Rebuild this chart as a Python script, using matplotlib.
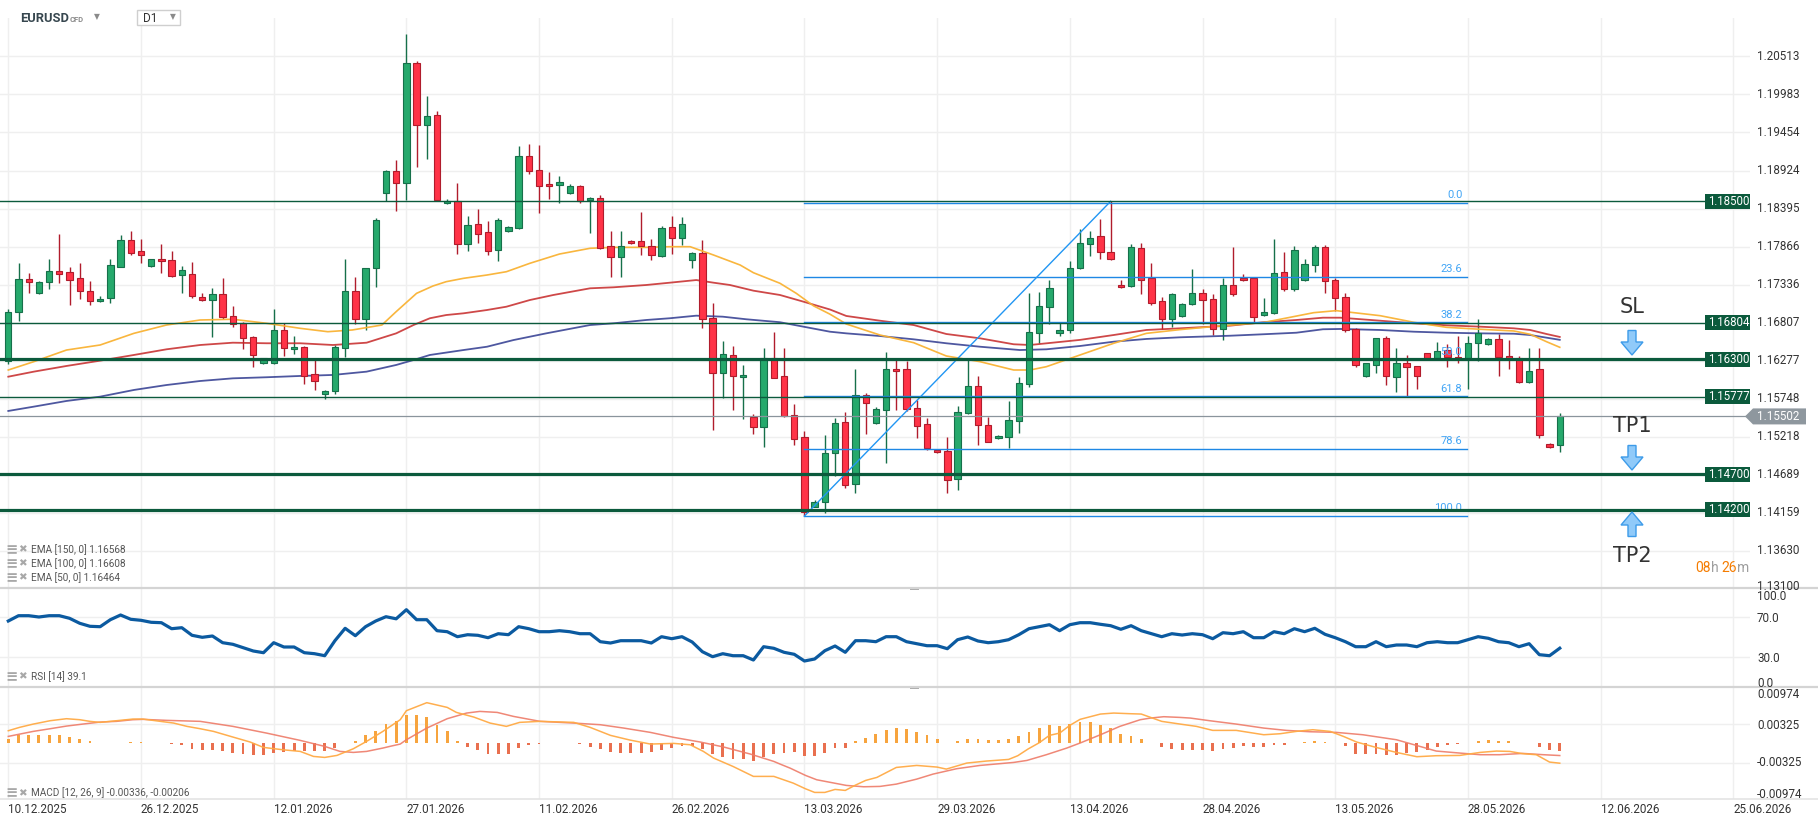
import matplotlib
matplotlib.use("Agg")
import matplotlib.pyplot as plt
import numpy as np
from matplotlib.patches import Rectangle, Polygon
from matplotlib.lines import Line2D

# ---------------------------------------------------------------- data
opens = [1.16273,1.16951,1.17410,1.17215,1.17377,1.17526,1.17508,1.17424,1.17243,1.17104,
1.17146,1.17586,1.17953,1.17800,1.17591,1.17689,1.17675,1.17466,1.17480,1.17160,
1.17118,1.17202,1.16896,1.16798,1.16603,1.16241,1.16241,1.16701,1.16436,1.16464,
1.16092,1.15810,1.15856,1.16450,1.17243,1.16854,1.17563,1.18607,1.18913,1.18746,
1.20416,1.19553,1.19692,1.18468,1.18504,1.17897,1.18176,1.18064,1.17814,1.18078,
1.18120,1.19122,1.18927,1.18732,1.18718,1.18607,1.18704,1.18510,1.18538,1.17869,
1.17716,1.17939,1.17939,1.17869,1.17730,1.18134,1.17981,1.17675,1.17772,1.16868,
1.16102,1.16353,1.16047,1.15489,1.15359,1.16311,1.16065,1.15522,1.15212,1.14246,
1.14307,1.14989,1.15420,1.14566,1.15796,1.15406,1.15587,1.16158,1.16158,1.15615,
1.15392,1.15031,1.15017,1.14627,1.15545,1.15921,1.15379,1.15198,1.15212,1.15434,
1.15949,1.16659,1.17021,1.16659,1.16701,1.17563,1.17897,1.18013,1.17786,1.17327,
1.17313,1.17842,1.17424,1.17104,1.16854,1.16896,1.17062,1.17215,1.17132,1.16715,
1.17327,1.17424,1.17424,1.16910,1.16937,1.17508,1.17271,1.17396,1.17605,1.17860,
1.17396,1.17160,1.16723,1.16060,1.16213,1.16597,1.16047,1.16241,1.16200,1.16381,
1.16311,1.16422,1.16325,1.16311,1.16520,1.16506,1.16584,1.16339,1.16311,1.15977,
1.16158,1.15114,1.15100]
highs = [1.16993,1.17633,1.17494,1.17390,1.17689,1.18041,1.17577,1.17633,1.17387,1.17178,
1.17689,1.18023,1.18082,1.17967,1.17695,1.17897,1.17800,1.17591,1.17647,1.17215,
1.17285,1.17424,1.17034,1.16820,1.16621,1.16320,1.16993,1.16798,1.16617,1.16482,
1.16287,1.15870,1.16492,1.17689,1.17438,1.17570,1.18259,1.18927,1.19066,1.20824,
1.20444,1.19957,1.19748,1.18528,1.18750,1.18291,1.18389,1.18222,1.18259,1.18152,
1.19269,1.19293,1.19279,1.18903,1.18844,1.18732,1.18723,1.18551,1.18579,1.18087,
1.18078,1.17955,1.18347,1.17967,1.18148,1.18291,1.18273,1.17786,1.17953,1.17076,
1.16548,1.16478,1.16218,1.15536,1.16450,1.16673,1.16450,1.15675,1.15299,1.14339,
1.15250,1.15476,1.15559,1.16158,1.15824,1.15629,1.16398,1.16287,1.16278,1.15726,
1.15476,1.15040,1.15212,1.15643,1.16297,1.16060,1.15498,1.15244,1.15712,1.16047,
1.17215,1.17229,1.17396,1.16798,1.17661,1.18106,1.18078,1.18245,1.18496,1.17396,
1.17897,1.17911,1.17633,1.17160,1.17215,1.17076,1.17549,1.17271,1.17202,1.17424,
1.17860,1.17480,1.17430,1.17146,1.17967,1.17790,1.17874,1.17689,1.17888,1.17884,
1.17424,1.17215,1.16730,1.16250,1.16600,1.16617,1.16450,1.16353,1.16205,1.16390,
1.16534,1.16506,1.16617,1.16617,1.16854,1.16590,1.16645,1.16561,1.16339,1.16450,
1.16450,1.15128,1.15546]
lows = [1.16232,1.16834,1.17215,1.17205,1.17279,1.17355,1.17048,1.17132,1.17048,1.17100,
1.17076,1.17580,1.17744,1.17633,1.17585,1.17502,1.17438,1.17215,1.17146,1.17104,
1.16603,1.16854,1.16751,1.16436,1.16194,1.16235,1.16228,1.16347,1.16367,1.15949,
1.15866,1.15740,1.15810,1.16333,1.16784,1.16709,1.17299,1.18496,1.18365,1.18510,
1.18969,1.19080,1.18510,1.18454,1.17767,1.17808,1.17920,1.17748,1.17669,1.18070,
1.18106,1.18880,1.18337,1.18532,1.18476,1.18600,1.18476,1.18059,1.17828,1.17438,
1.17446,1.17905,1.17753,1.17675,1.17725,1.17758,1.17888,1.17563,1.16728,1.15313,
1.15765,1.15591,1.15466,1.15258,1.15081,1.16030,1.15500,1.15109,1.14116,1.14237,
1.14162,1.14677,1.14510,1.14441,1.15262,1.15400,1.14858,1.15587,1.15573,1.15206,
1.15031,1.14989,1.14441,1.14482,1.15540,1.15109,1.15140,1.15190,1.15067,1.15267,
1.15907,1.16520,1.16784,1.16617,1.16659,1.17555,1.17730,1.17689,1.17680,1.17290,
1.17299,1.17202,1.17048,1.16715,1.16742,1.16890,1.17055,1.16784,1.16631,1.16561,
1.17178,1.17390,1.16812,1.16905,1.16930,1.17243,1.17243,1.17390,1.17508,1.17224,
1.16965,1.16673,1.16186,1.16055,1.16102,1.15935,1.15837,1.15776,1.15888,1.16300,
1.16305,1.16186,1.16241,1.15880,1.16269,1.16500,1.16069,1.16158,1.15963,1.15963,
1.15195,1.15068,1.15011]
closes = [1.16951,1.17410,1.17377,1.17377,1.17526,1.17480,1.17396,1.17243,1.17104,1.17132,
1.17605,1.17953,1.17772,1.17744,1.17689,1.17661,1.17461,1.17536,1.17174,1.17118,
1.17202,1.16882,1.16784,1.16589,1.16353,1.16311,1.16701,1.16450,1.16464,1.16065,
1.15991,1.15856,1.16464,1.17243,1.16854,1.17563,1.18231,1.18913,1.18746,1.20416,
1.19553,1.19679,1.18518,1.18500,1.17897,1.18162,1.18036,1.17800,1.18231,1.18134,
1.19122,1.18913,1.18704,1.18704,1.18760,1.18704,1.18496,1.18538,1.17842,1.17716,
1.17869,1.17911,1.17869,1.17744,1.18120,1.17981,1.18176,1.17772,1.16854,1.16113,
1.16367,1.16058,1.16079,1.15359,1.16311,1.16041,1.15508,1.15192,1.14176,1.14315,
1.14997,1.15406,1.14552,1.15796,1.15693,1.15601,1.16158,1.16130,1.15601,1.15373,
1.15067,1.15003,1.14613,1.15559,1.15921,1.15379,1.15147,1.15226,1.15448,1.15963,
1.16673,1.17034,1.17285,1.16701,1.17563,1.17911,1.17981,1.17786,1.17689,1.17299,
1.17855,1.17396,1.17076,1.16854,1.17202,1.17062,1.17215,1.17118,1.16715,1.17327,
1.17202,1.17396,1.16882,1.16951,1.17494,1.17271,1.17814,1.17619,1.17860,1.17382,
1.17146,1.16701,1.16213,1.16241,1.16597,1.16060,1.16241,1.16186,1.16060,1.16311,
1.16408,1.16325,1.16303,1.16520,1.16659,1.16584,1.16325,1.16311,1.15977,1.16130,
1.15250,1.15072,1.15502]

ema50_x = [0,2.5,5.7,9,12.3,15.5,18.8,22,25.3,28.6,31.3,33.7,36.6,38,40,41.6,42.9,44.6,46.9,48.8,
51.1,54,57,59.3,62.5,64.8,66.8,69.1,71.7,73,75.6,77.2,78.9,80.5,82.1,85.4,88.7,91.9,95.2,98.5,
100.1,101.7,105,108.3,111.5,114.8,119,122.9,124.6,127.9,130.1,134.4,137.7,140.9,144.2,147.5,149.1,150.7,152]
ema50_v = [1.16148,1.16264,1.16426,1.16496,1.16658,1.16774,1.16844,1.16854,1.16798,1.16728,1.16681,1.16705,
1.16774,1.16960,1.17215,1.17317,1.17377,1.17424,1.17470,1.17516,1.17633,1.17762,1.17842,1.17855,1.17855,
1.17864,1.17864,1.17748,1.17609,1.17502,1.17355,1.17215,1.17040,1.16925,1.16788,1.16635,1.16528,1.16343,
1.16264,1.16148,1.16148,1.16194,1.16357,1.16520,1.16658,1.16710,1.16765,1.16807,1.16854,1.16946,1.16974,
1.16904,1.16812,1.16742,1.16715,1.16691,1.16645,1.16542,1.16464]

ema100_x = [0,2.5,5.7,9,12.3,15.5,18.8,22,25.3,28.6,31.8,35.1,38,39.7,41.3,42.9,44.6,46.9,48.8,51.1,
53.4,57,59.3,62.5,64.8,67.4,69.1,70.7,73,75.6,77.9,80.5,82.1,85.4,88.7,91.9,95.2,98.5,100.1,105,
108.3,111.5,114.8,119.7,122.9,126.2,128.8,130.5,134.4,137.7,140.9,144.2,147.5,149.1,150.7,152]
ema100_v = [1.16055,1.16125,1.16204,1.16278,1.16357,1.16436,1.16496,1.16528,1.16520,1.16520,1.16496,1.16528,
1.16658,1.16774,1.16868,1.16913,1.16937,1.16983,1.17029,1.17122,1.17192,1.17285,1.17299,1.17331,1.17363,
1.17400,1.17363,1.17331,1.17252,1.17192,1.17099,1.16990,1.16900,1.16834,1.16774,1.16649,1.16589,1.16506,
1.16496,1.16567,1.16635,1.16705,1.16728,1.16765,1.16812,1.16844,1.16876,1.16876,1.16834,1.16798,1.16770,
1.16751,1.16728,1.16705,1.16649,1.16608]

ema150_x = [0,2.5,5.7,9,12.3,15.5,18.8,22,25.3,28.6,31.8,35.1,38,39.7,41.3,44.6,46.9,49.5,52.7,57,
59.3,62.5,64.8,67.4,70,72.3,75.6,77.9,80.5,82.1,85.4,88.7,91.9,95.2,99.1,101.7,105,108.3,111.5,114.8,
119.7,122.9,126.2,128.8,130.5,134.4,137.7,140.9,144.2,147.5,149.1,150.7,152]
ema150_v = [1.15578,1.15638,1.15717,1.15777,1.15870,1.15939,1.15995,1.16032,1.16047,1.16065,1.16079,1.16125,
1.16218,1.16287,1.16357,1.16426,1.16472,1.16565,1.16658,1.16774,1.16798,1.16844,1.16868,1.16904,1.16890,
1.16854,1.16813,1.16751,1.16681,1.16658,1.16621,1.16575,1.16520,1.16472,1.16426,1.16436,1.16482,1.16542,
1.16580,1.16603,1.16625,1.16645,1.16667,1.16715,1.16719,1.16705,1.16681,1.16667,1.16658,1.16653,1.16635,
1.16598,1.16568]

rsi = [66.3,71.6,71.6,70.3,71.6,71.6,69.0,64.0,61.0,60.6,67.6,72.3,68.0,67.0,65.0,64.6,58.6,59.6,52.0,50.0,
51.3,44.6,43.0,39.6,36.3,34.6,44.6,40.3,40.3,34.6,33.6,31.6,46.6,59.0,51.6,60.6,66.3,70.6,68.5,77.6,
67.6,67.6,56.6,55.6,50.6,52.6,52.0,49.6,53.6,52.6,60.6,58.6,55.6,55.6,56.6,55.6,53.6,53.6,45.6,44.3,
46.6,46.6,46.6,44.3,50.6,48.6,50.6,45.3,35.6,30.6,33.6,31.6,31.6,27.3,40.6,39.0,35.0,33.0,26.3,28.3,
36.6,41.3,35.0,46.6,46.6,45.6,50.6,50.6,45.6,43.6,41.6,41.6,38.6,47.6,50.3,46.3,44.6,45.6,47.6,52.6,
58.6,60.6,62.6,56.6,62.6,64.6,64.6,63.0,61.6,58.0,61.6,56.6,53.6,50.6,53.6,52.3,53.6,52.6,48.6,54.6,
53.6,55.6,49.6,49.6,55.6,53.6,58.6,55.6,59.0,53.0,49.6,45.6,40.6,40.6,45.6,40.6,42.3,42.3,40.6,44.6,
45.6,44.6,44.6,47.6,50.6,49.0,45.6,44.6,40.6,43.6,32.6,31.6,39.1]

macd_x = [0,1.1,2.45,4.1,5.7,7,8,9,10.6,12.2,13.2,14.9,16.2,17.5,18.8,20.1,22,23.7,25,26.9,28.6,29.9,31,32.2,
33.8,35.1,36.7,38.4,39,41,43,43.9,45.6,47.2,48.8,50.1,52.1,55.4,57,59,60.9,62.9,65.2,66.8,68.1,69.1,71,73,75,
76.9,78.1,79,80,81,82,83,84,85.1,87,89,91,91.9,93.9,95.8,98,98.9,99.9,101,102,103,104,105,107,108.3,109.9,
111,113,114.8,116.4,118,120.3,123,124.6,126.2,127.8,129.5,130.8,132.1,134,136,138,139.9,142.2,144.2,145.8,
147.1,148.4,149.7,151,152]
macd_v = [0.00215,0.00272,0.00328,0.00385,0.00419,0.00402,0.00374,0.00357,0.00385,0.00413,0.00413,0.00374,
0.00345,0.00289,0.00249,0.00204,0.00108,0.00023,-0.00068,-0.00108,-0.00136,-0.00221,-0.00238,-0.00204,
-0.00091,0.00034,0.00204,0.00402,0.00555,0.00691,0.00611,0.00526,0.00447,0.00345,0.00289,0.00357,0.00374,
0.00357,0.00272,0.00136,0.00057,-0.00011,0.0,-0.00023,-0.00136,-0.00249,-0.00391,-0.00560,-0.00560,
-0.00674,-0.00770,-0.00832,-0.00832,-0.00781,-0.00798,-0.00708,-0.00628,-0.00577,-0.00408,-0.00374,-0.00402,
-0.00436,-0.00334,-0.00300,-0.00272,-0.00209,-0.00096,0.00011,0.00136,0.00175,0.00306,0.00408,0.00498,
0.00515,0.00504,0.00498,0.00374,0.00328,0.00289,0.00221,0.00221,0.00147,0.00164,0.00204,0.00232,0.00204,
0.00119,0.00023,-0.00068,-0.00153,-0.00226,-0.00209,-0.00204,-0.00153,-0.00130,-0.00136,-0.00175,-0.00192,
-0.00317,-0.00336]

signal_x = [0,2.45,4.1,5.7,7.3,9,10.6,12.2,13.2,15.5,18.8,22,25.3,28.6,31,32.5,33.8,35.1,36.7,37.4,38.4,39,41,43,
44.9,46.2,47.9,49.5,52.1,55.4,58,60.3,62.9,65.2,67.8,70.1,72.7,75,75.6,76.6,78.1,79.2,82.1,83.8,85.4,87,89,90.6,
92.9,95.2,98.5,99.8,101.7,103.7,105,107,108.9,110.9,111.9,113.2,114.8,115.8,117.7,120.3,123,125.2,127.5,130.1,
132.7,136,138.3,139.9,142.2,144.2,146.1,148.4,150.4,152]
signal_v = [0.00119,0.00204,0.00249,0.00294,0.00328,0.00362,0.00374,0.00402,0.00408,0.00391,0.00374,0.00289,
0.00175,0.00051,-0.00051,-0.00136,-0.00153,-0.00136,-0.00079,-0.00050,-0.00011,0.00062,0.00260,0.00419,
0.00515,0.00543,0.00526,0.00458,0.00374,0.00345,0.00317,0.00260,0.00187,0.00102,0.00023,-0.00062,-0.00181,
-0.00306,-0.00350,-0.00420,-0.00543,-0.00617,-0.00713,-0.00736,-0.00730,-0.00691,-0.00606,-0.00521,-0.00430,
-0.00374,-0.00323,-0.00289,-0.00192,-0.00079,0.00006,0.00147,0.00289,0.00402,0.00430,0.00453,0.00441,0.00430,
0.00385,0.00328,0.00260,0.00221,0.00198,0.00187,0.00147,0.00062,-0.00051,-0.00130,-0.00164,-0.00192,-0.00192,
-0.00170,-0.00192,-0.00206]

hist = [0.00079,0.00136,0.00147,0.00147,0.00147,0.00147,0.00113,0.00079,0.00034,0.00006,
0.00003,0.00011,0.00028,0.00023,0.00011,0.00006,-0.00011,-0.00034,-0.00091,-0.00119,
-0.00119,-0.00125,-0.00170,-0.00181,-0.00204,-0.00204,-0.00170,-0.00153,-0.00136,-0.00136,
-0.00136,-0.00130,-0.00085,0.00011,0.00045,0.00136,0.00215,0.00334,0.00385,0.00487,
0.00487,0.00453,0.00317,0.00204,0.00045,-0.00057,-0.00119,-0.00187,-0.00187,-0.00187,
-0.00085,-0.00034,-0.00017,0.0,0.0,0.0,-0.00017,-0.00057,-0.00102,-0.00153,
-0.00170,-0.00170,-0.00170,-0.00153,-0.00119,-0.00085,-0.00051,-0.00051,-0.00102,-0.00187,
-0.00238,-0.00272,-0.00272,-0.00306,-0.00238,-0.00187,-0.00170,-0.00153,-0.00221,-0.00221,
-0.00170,-0.00085,-0.00085,0.00034,0.00096,0.00164,0.00232,0.00266,0.00249,0.00198,
0.00147,0.00079,0.00011,0.00045,0.00079,0.00079,0.00062,0.00062,0.00079,0.00130,
0.00198,0.00266,0.00317,0.00300,0.00334,0.00357,0.00357,0.00317,0.00266,0.00164,
0.00130,0.00079,0.0,-0.00068,-0.00102,-0.00119,-0.00119,-0.00119,-0.00136,-0.00102,
-0.00085,-0.00051,-0.00068,-0.00068,-0.00034,-0.00034,0.00011,0.00028,0.00045,0.00028,
0.0,-0.00051,-0.00187,-0.00187,-0.00187,-0.00204,-0.00204,-0.00170,-0.00153,-0.00119,
-0.00068,-0.00034,-0.00017,0.0,0.00045,0.00062,0.00045,0.00045,0.00011,0.0,
-0.00068,-0.00119,-0.00130]

date_labels = ["10.12.2025","26.12.2025","12.01.2026","27.01.2026","11.02.2026","26.02.2026","13.03.2026",
               "29.03.2026","13.04.2026","28.04.2026","13.05.2026","28.05.2026","12.06.2026","25.06.2026"]
bars_per_label = 13

price_ticks = [1.20513,1.19983,1.19454,1.18924,1.18395,1.17866,1.17336,1.16807,1.16277,1.15748,
               1.15218,1.14689,1.14159,1.13630,1.13100]
levels = [1.18500, 1.16804, 1.16300, 1.15777, 1.14700, 1.14200]
level_thick = [False, False, True, False, True, True]
last_price = 1.15502

fib_high, fib_low = 1.18475, 1.14116
fib_start, fib_end = 78, 142.9
fib_ratios = [0.0, 23.6, 38.2, 50.0, 61.8, 78.6, 100.0]
trend_start = (78, 1.14116)
trend_end = (108, 1.18496)

legend_texts = ["EMA [150, 0] 1.16568", "EMA [100, 0] 1.16608", "EMA [50, 0] 1.16464"]
rsi_text = "RSI [14] 39.1"
macd_text = "MACD [12, 26, 9] -0.00336, -0.00206"

# ---------------------------------------------------------------- layout
W, H = 1818, 830
fig = plt.figure(figsize=(W / 100, H / 100), dpi=100)
fig.patch.set_facecolor("white")
FONT = "Roboto"

PX0, PXB = 8.3, 10.207          # px of bar 0, px per bar
XR = 1750                        # right edge of plotting area (px)
XLIM = (-PX0 / PXB, (XR - PX0) / PXB)

def fx(x):
    return x / W

def fy(y):
    return 1 - y / H

def add_axes(ytop, ybot):
    a = fig.add_axes([0, 1 - ybot / H, XR / W, (ybot - ytop) / H])
    a.set_xlim(*XLIM)
    a.axis("off")
    return a

P_TOP, P_BOT = 18, 589
ax = add_axes(P_TOP, P_BOT)
PRICE_LIM = (1.13100, 1.21047)
ax.set_ylim(*PRICE_LIM)
ax_r = add_axes(589, 687.3)
ax_r.set_ylim(0, 98.3)
ax_m = add_axes(687.3, 799)
ax_m.set_ylim(-0.009436, 0.009521)

def price_py(v):
    return P_BOT - (v - PRICE_LIM[0]) / (PRICE_LIM[1] - PRICE_LIM[0]) * (P_BOT - P_TOP)

GRID = "#efefef"
n = len(opens)
grid_idx = [k * bars_per_label for k in range(len(date_labels))]
for a in (ax, ax_r, ax_m):
    for gi in grid_idx:
        a.axvline(gi, color=GRID, lw=1.0, zorder=0)
for t in price_ticks:
    ax.axhline(t, color=GRID, lw=1.0, zorder=0)
for t in (70, 30):
    ax_r.axhline(t, color=GRID, lw=1.0, zorder=0)
for t in (0.00325, -0.00325):
    ax_m.axhline(t, color=GRID, lw=1.0, zorder=0)

# ---------------------------------------------------------------- candles
o = np.array(opens); h = np.array(highs); l = np.array(lows); c = np.array(closes)
idx = np.arange(n)
up = c >= o
G_FILL, G_EDGE = "#26a96c", "#16704a"
R_FILL, R_EDGE = "#ff3347", "#b01c2c"
ax.vlines(idx[up], l[up], h[up], color=G_EDGE, lw=1.0, zorder=2)
ax.vlines(idx[~up], l[~up], h[~up], color=R_EDGE, lw=1.0, zorder=2)
bb = np.minimum(o, c)
bh = np.maximum(np.abs(c - o), 0.00012)
ax.bar(idx[up], bh[up], bottom=bb[up], width=0.62, color=G_FILL, edgecolor=G_EDGE, lw=0.8, zorder=3)
ax.bar(idx[~up], bh[~up], bottom=bb[~up], width=0.62, color=R_FILL, edgecolor=R_EDGE, lw=0.8, zorder=3)

# EMAs
ax.plot(ema150_x, ema150_v, color="#2f3a8f", lw=1.3, alpha=0.85, zorder=2.5)
ax.plot(ema100_x, ema100_v, color="#c62828", lw=1.3, alpha=0.85, zorder=2.5)
ax.plot(ema50_x, ema50_v, color="#f9b233", lw=1.2, alpha=0.95, zorder=2.5)

# ---------------------------------------------------------------- levels
LVL = "#0b5a3c"
for v, thick in zip(levels, level_thick):
    ax.axhline(v, color=LVL, lw=2.3 if thick else 1.0, zorder=5)
    dh = 7.5 * (PRICE_LIM[1] - PRICE_LIM[0]) / (P_BOT - P_TOP)
    ax.add_patch(Rectangle((1705 / XR, v - dh), 1 - 1705 / XR, 2 * dh,
                           transform=ax.get_yaxis_transform(), facecolor=LVL,
                           edgecolor="none", zorder=6))
    ax.text(1708 / XR, v, "%.5f" % v, transform=ax.get_yaxis_transform(),
            color="white", fontsize=8.3, family=FONT, va="center", ha="left",
            zorder=7, clip_on=True)
ax.axhline(last_price, color="#8a949c", lw=0.9, zorder=4)

# fibonacci
FIB = "#1e88e5"
rng = fib_high - fib_low
for r in fib_ratios:
    v = fib_high - r / 100.0 * rng
    ax.plot([fib_start, fib_end], [v, v], color=FIB, lw=1.0, zorder=4)
    ax.text(fib_end - 0.45, v + 0.00035, "%.1f" % r, color="#42a5f5", fontsize=8,
            family=FONT, ha="right", va="bottom", zorder=4)
ax.plot([trend_start[0], trend_end[0]], [trend_start[1], trend_end[1]],
        color="#2196f3", lw=1.0, zorder=4)

# ---------------------------------------------------------------- RSI
ax_r.plot(idx, rsi, color="#0b5aa0", lw=2.3, solid_joinstyle="round", zorder=3)

# ---------------------------------------------------------------- MACD
hv = np.array(hist)
ax_m.bar(idx[hv >= 0], hv[hv >= 0], width=0.28, color="#f7a43e", zorder=2)
ax_m.bar(idx[hv < 0], hv[hv < 0], width=0.28, color="#e9704f", zorder=2)
ax_m.plot(signal_x, signal_v, color="#ee7b68", lw=1.1, alpha=0.9, zorder=3)
ax_m.plot(macd_x, macd_v, color="#ffaa45", lw=1.1, alpha=0.95, zorder=3)

# ---------------------------------------------------------------- separators
for yy, col, lw in ((588, "#d4d4d4", 1.6), (687.3, "#d4d4d4", 1.6), (799, "#e4e4e4", 1.2)):
    fig.add_artist(Line2D([0, 1], [fy(yy), fy(yy)], color=col, lw=lw, transform=fig.transFigure))
for yy in (588, 687.3):
    fig.add_artist(Rectangle((fx(910), fy(yy + 1.5)), 9 / W, 3 / H, facecolor="#aaaaaa",
                             edgecolor="none", transform=fig.transFigure))

# ---------------------------------------------------------------- axis labels
TXT = "#333333"
for t in price_ticks:
    yy = price_py(t)
    if t == price_ticks[-1]:
        yy -= 3
    fig.text(fx(1757), fy(yy), "%.5f" % t, fontsize=8.4, family=FONT, color=TXT,
             va="center", ha="left")
for lab, yy in (("100.0", 596), ("70.0", 618.3), ("30.0", 658.3), ("0.0", 683)):
    fig.text(fx(1757), fy(yy), lab, fontsize=8.4, family=FONT, color=TXT, va="center", ha="left")
for lab, yy in (("0.00974", 694), ("0.00325", 725), ("-0.00325", 762.5), ("-0.00974", 794.5)):
    fig.text(fx(1757), fy(yy), lab, fontsize=8.4, family=FONT, color=TXT, va="center", ha="left")
for gi, lab in zip(grid_idx, date_labels):
    fig.text(fx(PX0 + gi * PXB), fy(809), lab, fontsize=8.4, family=FONT, color=TXT,
             va="center", ha="left")

# current price tag
py = price_py(last_price)
fig.add_artist(Polygon([(fx(1745), fy(py)), (fx(1753), fy(py - 8)), (fx(1806), fy(py - 8)),
                        (fx(1806), fy(py + 8)), (fx(1753), fy(py + 8))],
                       closed=True, facecolor="#8e979e", edgecolor="none",
                       transform=fig.transFigure))
fig.text(fx(1757), fy(py), "%.5f" % last_price, fontsize=8.4, family=FONT, color="white",
         va="center", ha="left")

# ---------------------------------------------------------------- header
fig.text(fx(20), fy(18.5), "EURUSD", fontsize=9.3, family=FONT, weight="bold", color="#37474f",
         va="center", ha="left")
fig.text(fx(70), fy(19.5), "CFD", fontsize=5.5, family=FONT, weight="bold", color="#8a8a8a",
         va="center", ha="left")
fig.text(fx(96.5), fy(16.5), "\u25BC", fontsize=5.5, family="DejaVu Sans", color="#8a8a8a",
         va="center", ha="center")
fig.add_artist(Rectangle((fx(137), fy(25.5)), 43 / W, 15 / H, facecolor="white",
                         edgecolor="#cfcfcf", lw=1.0, transform=fig.transFigure))
fig.text(fx(142.5), fy(18.5), "D1", fontsize=8.5, family=FONT, color=TXT, va="center", ha="left")
fig.text(fx(173), fy(16.5), "\u25BC", fontsize=5.5, family="DejaVu Sans", color="#8a8a8a",
         va="center", ha="center")

# ---------------------------------------------------------------- legends
def legend_line(y, text):
    fig.text(fx(5), fy(y), "\u2261", fontsize=10.5, family="DejaVu Sans", color="#a8a8a8",
             va="center", ha="left", weight="bold")
    fig.text(fx(18.5), fy(y), "\u2716", fontsize=7.5, family="DejaVu Sans", color="#a8a8a8",
             va="center", ha="left")
    fig.text(fx(31), fy(y), text, fontsize=7.2, family=FONT, color="#555555",
             va="center", ha="left")

for yy, t in zip((549.3, 563.3, 577.3), legend_texts):
    legend_line(yy, t)
legend_line(676.7, rsi_text)
legend_line(793.0, macd_text)

# ---------------------------------------------------------------- SL / TP annotations
def arrow(xc, yc, down=True):
    s = 1 if down else -1
    pts = [(-4, -12.5), (4, -12.5), (4, -1), (11, -1), (0, 12), (-11, -1), (-4, -1)]
    pts = [(fx(xc + dx), fy(yc + s * dy)) for dx, dy in pts]
    fig.add_artist(Polygon(pts, closed=True, facecolor="#90caf9", edgecolor="#3d9be9",
                           lw=1.0, transform=fig.transFigure))

for txt, yy in (("SL", 307), ("TP1", 426), ("TP2", 556)):
    fig.text(fx(1632), fy(yy), txt, fontsize=15, family="DejaVu Sans", color="#333333",
             va="center", ha="center")
arrow(1632, 343, True)
arrow(1632, 458, True)
arrow(1632, 524, False)

# countdown
for s, xx, col in (("08", 1695, "#f57c00"), ("h", 1710.6, "#9e9e9e"),
                   ("26", 1721.5, "#f57c00"), ("m", 1737.1, "#9e9e9e")):
    fig.text(fx(xx), fy(568), s, fontsize=10, family=FONT, color=col, va="center", ha="left")

fig.savefig("out.png", dpi=100, facecolor="white")
